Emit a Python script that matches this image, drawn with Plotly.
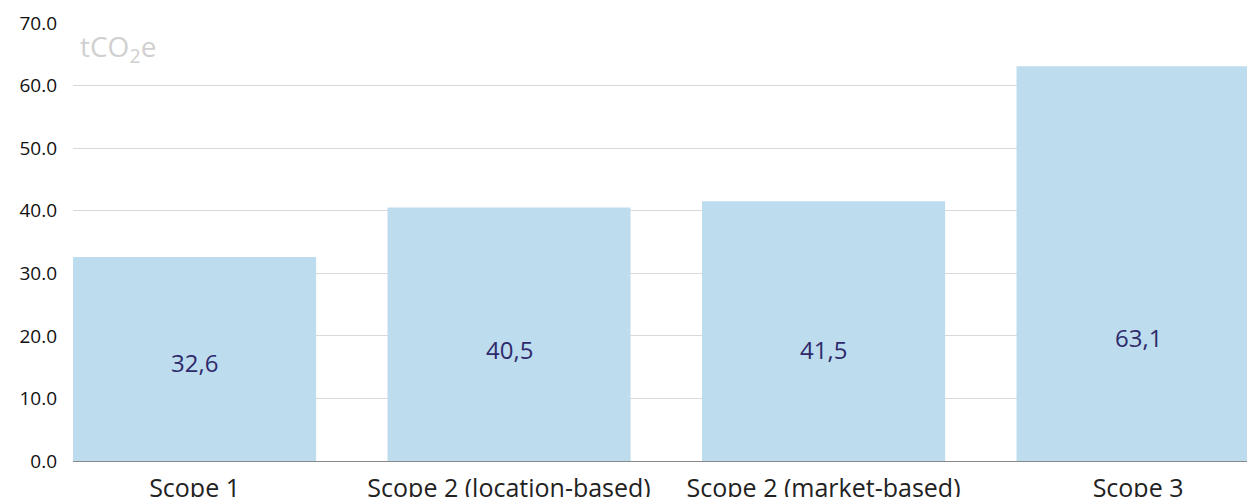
import plotly.graph_objects as go

categories = ["Scope 1", "Scope 2 (location-based)", "Scope 2 (market-based)", "Scope 3"]
values = [32.6, 40.5, 41.5, 63.1]
value_labels = ["32,6", "40,5", "41,5", "63,1"]
label_y = [15.7, 17.9, 17.9, 19.8]
y_ticks = [0, 10, 20, 30, 40, 50, 60, 70]
y_tick_text = ["0.0", "10.0", "20.0", "30.0", "40.0", "50.0", "60.0", "70.0"]

FONT = "Open Sans"
BAR_WIDTH = 0.773

fig = go.Figure()
fig.add_trace(go.Bar(
    x=list(range(len(categories))), y=values,
    marker=dict(color="#BDDCEE", line=dict(width=0)),
    width=BAR_WIDTH, hoverinfo="skip",
))

for i, (lab, ly) in enumerate(zip(value_labels, label_y)):
    fig.add_annotation(x=i, y=ly, text=lab, showarrow=False,
                       font=dict(family=FONT, size=24, color="#2E2A6B"),
                       xref="x", yref="y")

fig.add_annotation(xref="paper", yref="paper", x=0.004, y=0.944, xanchor="left", yanchor="middle",
                   text="tCO<sub>2</sub>e", showarrow=False,
                   font=dict(family=FONT, size=28, color="#D0D0D0"))

left = -BAR_WIDTH / 2
fig.update_layout(
    width=1247, height=497,
    margin=dict(l=73, r=0, t=23, b=36, autoexpand=False),
    paper_bgcolor="white", plot_bgcolor="white",
    showlegend=False,
    font=dict(family=FONT, size=17, color="#222222"),
    xaxis=dict(
        range=[left, left + 1174 / 314.5], automargin=False,
        tickmode="array", tickvals=list(range(len(categories))), ticktext=categories,
        showgrid=False, zeroline=False, showline=True, linecolor="#888888", linewidth=1.3,
        layer="below traces",
        ticks="", ticklabelstandoff=5,
        tickfont=dict(family=FONT, size=25, color="#222222"),
    ),
    yaxis=dict(
        range=[0, 70], automargin=False,
        tickmode="array", tickvals=y_ticks, ticktext=y_tick_text,
        showgrid=True, gridcolor="#D9D9D9", gridwidth=1,
        zeroline=False, showline=False, ticks="",
        ticklabelstandoff=15,
        tickfont=dict(family=FONT, size=19, color="#111111"),
    ),
)

fig.write_html("out.html", config={"displayModeBar": False},
               post_script="document.body.style.margin='0';document.body.style.overflow='hidden';")
